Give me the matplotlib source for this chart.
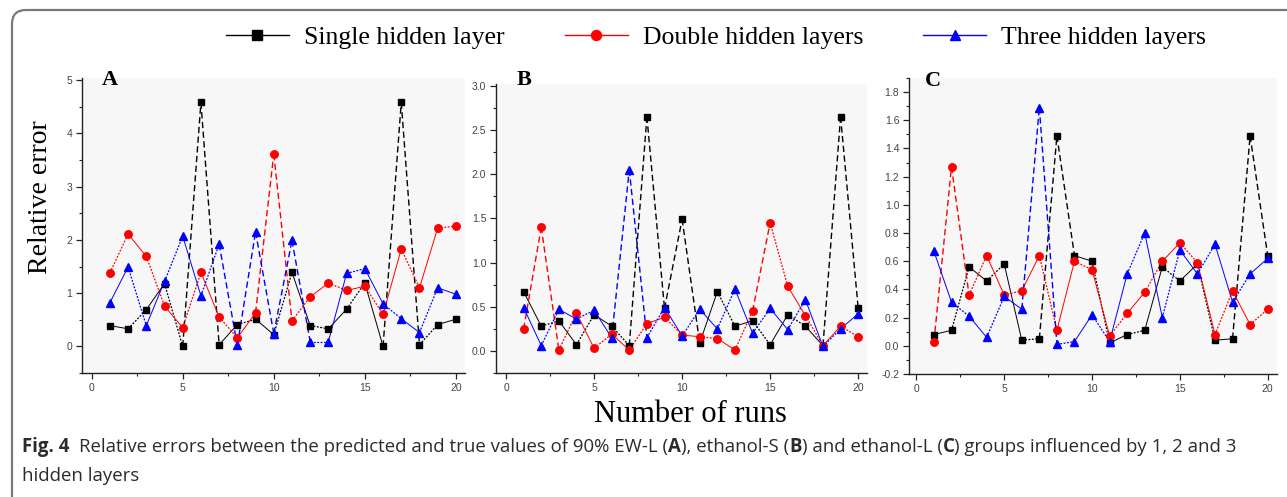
import numpy as np
import matplotlib
matplotlib.use("Agg")
import matplotlib.pyplot as plt
from matplotlib.lines import Line2D
from matplotlib.patches import FancyBboxPatch
from matplotlib.transforms import IdentityTransform
from matplotlib.ticker import MultipleLocator, FormatStrFormatter

# ---------------- data ----------------
runs = list(range(1, 21))

a_single = [0.39, 0.33, 0.69, 1.18, 0.00, 4.58, 0.03, 0.41, 0.51, 0.22,
            1.39, 0.39, 0.33, 0.70, 1.19, 0.00, 4.58, 0.03, 0.41, 0.51]
a_double = [1.38, 2.11, 1.69, 0.76, 0.35, 1.39, 0.55, 0.16, 0.63, 3.61,
            0.48, 0.93, 1.19, 1.05, 1.13, 0.60, 1.83, 1.10, 2.22, 2.26]
a_three = [0.82, 1.49, 0.39, 1.22, 2.07, 0.95, 1.92, 0.02, 2.15, 0.24,
           1.99, 0.09, 0.09, 1.37, 1.46, 0.80, 0.52, 0.26, 1.10, 0.98]

b_single = [0.67, 0.28, 0.34, 0.07, 0.41, 0.28, 0.06, 2.65, 0.48, 1.49,
            0.09, 0.67, 0.28, 0.34, 0.07, 0.41, 0.28, 0.06, 2.65, 0.48]
b_double = [0.25, 1.40, 0.01, 0.43, 0.03, 0.19, 0.01, 0.31, 0.38, 0.18,
            0.16, 0.14, 0.01, 0.45, 1.45, 0.73, 0.40, 0.06, 0.28, 0.16]
b_three = [0.49, 0.06, 0.47, 0.36, 0.46, 0.15, 2.05, 0.15, 0.49, 0.17,
           0.47, 0.25, 0.70, 0.20, 0.48, 0.24, 0.58, 0.05, 0.25, 0.42]

c_single = [0.08, 0.11, 0.56, 0.46, 0.58, 0.04, 0.05, 1.49, 0.64, 0.60,
            0.02, 0.08, 0.11, 0.56, 0.46, 0.58, 0.04, 0.05, 1.49, 0.64]
c_double = [0.03, 1.27, 0.36, 0.64, 0.36, 0.39, 0.64, 0.11, 0.60, 0.54,
            0.07, 0.23, 0.38, 0.60, 0.73, 0.59, 0.08, 0.39, 0.15, 0.26]
c_three = [0.67, 0.31, 0.21, 0.06, 0.35, 0.26, 1.69, 0.01, 0.03, 0.22,
           0.03, 0.51, 0.80, 0.20, 0.68, 0.51, 0.72, 0.31, 0.51, 0.62]

series_labels = ["Single hidden layer", "Double hidden layers", "Three hidden layers"]
panel_letters = ["A", "B", "C"]
x_label = "Number of runs"
y_label = "Relative error"

# ---------------- style ----------------
W, H = 1287, 497
SERIF = ["Liberation Serif", "DejaVu Serif"]
CAP_FONT = ["Open Sans", "DejaVu Sans"]
colors = ["#000000", "#ff0000", "#0000ff"]
markers = ["s", "o", "^"]
msizes = [4.8, 5.4, 5.6]

fig = plt.figure(figsize=(W / 100, H / 100), dpi=100)
fig.patch.set_facecolor("white")


def px_axes(left, top, right, bottom):
    return fig.add_axes([left / W, 1 - bottom / H, (right - left) / W, (bottom - top) / H])


panels = [
    dict(box=(82, 78, 465, 373), ylim=(-0.5, 5.04), xlim=(-0.53, 20.5),
         major=1.0, minor=0.5, fmt="%d", data=[a_single, a_double, a_three]),
    dict(box=(496, 84, 867, 373), ylim=(-0.25, 3.02), xlim=(-0.57, 20.5),
         major=0.5, minor=0.25, fmt="%.1f", data=[b_single, b_double, b_three]),
    dict(box=(909, 78, 1277, 374), ylim=(-0.2, 1.9), xlim=(-0.42, 20.53),
         major=0.2, minor=0.1, fmt="%.1f", data=[c_single, c_double, c_three]),
]

for p in panels:
    ax = px_axes(*p["box"])
    ax.set_facecolor("#f7f7f7")
    ax.set_xlim(*p["xlim"])
    ax.set_ylim(*p["ylim"])
    yr = p["ylim"][1] - p["ylim"][0]
    for k, ys in enumerate(p["data"]):
        ys = np.asarray(ys)
        xs = np.asarray(runs)
        for i in range(len(xs) - 1):
            d = abs(ys[i + 1] - ys[i])
            if d > 0.3 * yr:
                ls, lw = (0, (4.5, 2.5)), 1.0
            elif (i + k) % 2 == 0:
                ls, lw = "-", 0.7
            else:
                ls, lw = (0, (1.5, 1.2)), 0.9
            ax.plot(xs[i:i + 2], ys[i:i + 2], color=colors[k], lw=lw, ls=ls, zorder=2)
        ax.plot(xs, ys, ls="none", marker=markers[k], ms=msizes[k],
                color=colors[k], mec=colors[k], zorder=3)
    for s in ["top", "right"]:
        ax.spines[s].set_visible(False)
    for s in ["left", "bottom"]:
        ax.spines[s].set_color("#222222")
        ax.spines[s].set_linewidth(1.0)
    ax.xaxis.set_major_locator(MultipleLocator(5))
    ax.xaxis.set_minor_locator(MultipleLocator(2.5))
    ax.yaxis.set_major_locator(MultipleLocator(p["major"]))
    ax.yaxis.set_minor_locator(MultipleLocator(p["minor"]))
    ax.yaxis.set_major_formatter(FormatStrFormatter(p["fmt"]))
    ax.tick_params(which="major", direction="out", length=4, width=0.9,
                   labelsize=7.5, labelcolor="#444444", color="#222222", pad=3)
    ax.tick_params(which="minor", direction="out", length=2.5, width=0.8, color="#222222")
    for lab in ax.get_xticklabels() + ax.get_yticklabels():
        lab.set_family(["Liberation Sans", "DejaVu Sans"])

# panel letters
letter_pos = [(110, 80), (524, 80), (933, 81)]
for (x, y), t in zip(letter_pos, panel_letters):
    fig.text(x / W, 1 - y / H, t, fontsize=16, fontweight="bold", family=SERIF,
             ha="center", va="center")

# axis titles
fig.text(41 / W, 1 - 197 / H, y_label, rotation=90, fontsize=20, family=SERIF,
         ha="center", va="center")
fig.text(690 / W, 1 - 414 / H, x_label, fontsize=22, family=SERIF,
         ha="center", va="center")

# legend
handles = [Line2D([], [], color=colors[k], marker=markers[k], ms=msizes[k] + 1.8, lw=1.0)
           for k in range(3)]
fig.legend(handles, series_labels, loc="center",
           bbox_to_anchor=(716 / W, 1 - 38 / H), ncol=3, frameon=False,
           prop=dict(family=SERIF, size=18.5), handlelength=2.45,
           handletextpad=0.58, columnspacing=2.35)

# frame
frame = FancyBboxPatch((12, -60), W + 60, H - 10 + 60,
                       boxstyle="round,pad=0,rounding_size=14",
                       transform=IdentityTransform(), fill=False,
                       ec="#7a7a7a", lw=1.6, clip_on=False)
fig.add_artist(frame)

# caption with mixed bold pieces
renderer = fig.canvas.get_renderer()
cap_size = 13.4
cap_color = "#2b2b2b"


def text_width(s, weight):
    t = fig.text(0, 0, s, fontsize=cap_size, family=CAP_FONT, fontweight=weight)
    w = t.get_window_extent(renderer).width
    t.remove()
    return w


space_w = text_width("a a", "normal") - text_width("aa", "normal")

line1 = [("Fig. 4", "bold"), ("  ", None),
         ("Relative errors between the predicted and true values of 90% EW-L (", "normal"),
         ("A", "bold"), ("), ethanol-S (", "normal"), ("B", "bold"),
         (") and ethanol-L (", "normal"), ("C", "bold"),
         (") groups influenced by 1, 2 and 3", "normal")]
x = 22.0
y1 = 1 - 447 / H
for s, wgt in line1:
    if wgt is None:
        x += space_w * len(s)
        continue
    lead = len(s) - len(s.lstrip(" "))
    x += lead * space_w
    s2 = s.strip(" ")
    fig.text(x / W, y1, s2, fontsize=cap_size, family=CAP_FONT, fontweight=wgt,
             color=cap_color, ha="left", va="center")
    x += text_width(s2, wgt)
    trail = len(s) - len(s.rstrip(" "))
    x += trail * space_w

fig.text(22 / W, 1 - 476 / H, "hidden layers", fontsize=cap_size, family=CAP_FONT,
         color=cap_color, ha="left", va="center")

fig.savefig("out.png", dpi=100)
